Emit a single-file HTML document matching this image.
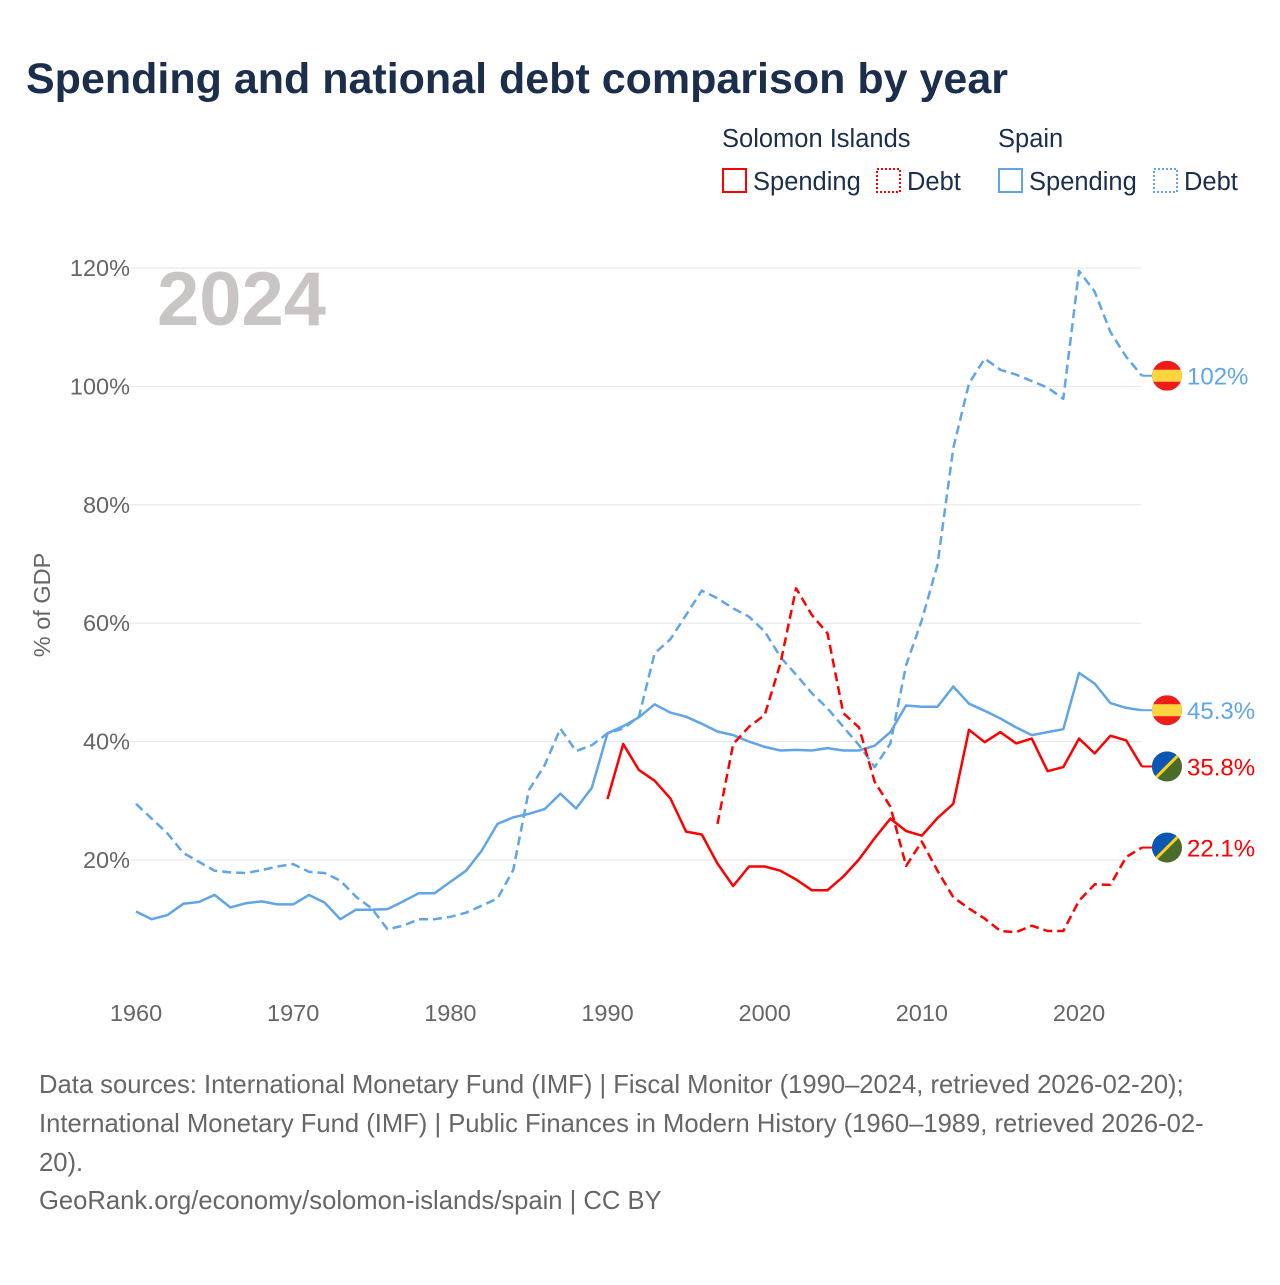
<!DOCTYPE html>
<html><head><meta charset="utf-8"><style>
body{margin:0;background:#fff;font-family:"Liberation Sans",sans-serif}
svg text{font-family:"Liberation Sans",sans-serif}
</style></head><body>
<svg width="1280" height="1280" viewBox="0 0 1280 1280">
<text x="26" y="93" font-size="43" font-weight="bold" fill="#1b2e4b">Spending and national debt comparison by year</text>
<g font-size="25.5" fill="#1b2e4b">
<text x="722" y="147">Solomon Islands</text>
<text x="998" y="147">Spain</text>
<g><rect x="723" y="169" width="23" height="23" fill="none" stroke="#f00" stroke-width="2"/><text x="753" y="190">Spending</text></g>
<g><rect x="877" y="169" width="23" height="23" fill="none" stroke="#f00" stroke-width="2" stroke-dasharray="2 2"/><text x="907" y="190">Debt</text></g>
<g><rect x="999" y="169" width="23" height="23" fill="none" stroke="#5fa5e8" stroke-width="2"/><text x="1029" y="190">Spending</text></g>
<g><rect x="1154" y="169" width="23" height="23" fill="none" stroke="#5fa5e8" stroke-width="2" stroke-dasharray="2 2"/><text x="1184" y="190">Debt</text></g>
</g>
<g id="grid"></g>
<text x="157" y="325" font-size="76" font-weight="bold" fill="#c9c5c5">2024</text>
<text transform="translate(50,605) rotate(-90)" text-anchor="middle" font-size="23.5" fill="#666">% of GDP</text>
<g id="series"></g>
<g id="ends"></g>
<g font-size="25.6" fill="#666">
<text x="39" y="1093">Data sources: International Monetary Fund (IMF) | Fiscal Monitor (1990–2024, retrieved 2026-02-20);</text>
<text x="39" y="1132">International Monetary Fund (IMF) | Public Finances in Modern History (1960–1989, retrieved 2026-02-</text>
<text x="39" y="1171">20).</text>
<text x="39" y="1209">GeoRank.org/economy/solomon-islands/spain | CC BY</text>
</g>
</svg>
<script>
const yTicks=[20,40,60,80,100,120];
const xTicks=[1960,1970,1980,1990,2000,2010,2020];
const spainSpendStart=1960;
const spainSpending=[11.3,10.0,10.7,12.6,12.9,14.1,12.0,12.7,13.0,12.5,12.5,14.1,12.8,10.0,11.6,11.6,11.7,13.0,14.4,14.4,16.3,18.2,21.6,26.1,27.2,27.8,28.6,31.2,28.7,32.2,41.4,42.6,44.1,46.3,44.9,44.2,43.0,41.7,41.1,40.0,39.1,38.5,38.6,38.5,38.9,38.5,38.5,39.3,41.6,46.1,45.9,45.9,49.3,46.4,45.2,43.9,42.4,41.1,41.6,42.1,51.6,49.8,46.5,45.7,45.3];
const spainDebtStart=1960;
const spainDebt=[29.5,27.0,24.5,21.2,19.7,18.2,17.9,17.8,18.3,18.9,19.3,18.0,17.8,16.5,13.8,11.8,8.3,8.9,10.0,10.0,10.4,11.1,12.3,13.5,18.3,31.8,36.0,42.2,38.4,39.4,41.4,42.2,44.2,54.9,57.3,61.4,65.5,64.2,62.5,61.1,58.6,54.3,51.3,48.2,45.6,42.5,39.4,35.7,39.7,52.9,60.5,69.9,89.6,100.5,104.7,102.8,102.0,100.9,99.8,97.9,119.5,116.0,109.2,105.0,101.8];
const solSpendStart=1990;
const solSpending=[30.3,39.6,35.2,33.4,30.4,24.8,24.3,19.4,15.6,18.9,18.9,18.2,16.7,14.9,14.9,17.2,20.1,23.7,27.0,24.9,24.1,27.1,29.5,42.0,39.9,41.6,39.7,40.5,35.0,35.7,40.5,38.0,41.0,40.2,35.8];
const solDebtStart=1997;
const solDebt=[26.1,39.6,42.5,44.5,53.2,65.9,61.4,58.3,44.8,42.4,33.2,29.0,19.0,23.1,18.2,13.7,11.8,10.1,8.0,7.8,8.9,8.0,8.0,13.1,15.9,15.8,20.5,22.1];

const NS='http://www.w3.org/2000/svg';
const X=y=>136+(y-1960)*(1079-136)/60;
const Y=v=>978.4-v*5.92;
function mk(t,a,p){const e=document.createElementNS(NS,t);for(const k in a)e.setAttribute(k,a[k]);p.appendChild(e);return e;}
const grid=document.getElementById('grid');
yTicks.forEach(v=>{
 const l=mk('line',{x1:130,x2:1141,y1:Y(v),y2:Y(v),stroke:'#e6e6e6','stroke-width':1},grid);
 
 
 const t=mk('text',{x:130,y:Y(v)+8,'text-anchor':'end','font-size':23.5,fill:'#666'},grid);
 t.textContent=v+'%';
 
 
});
xTicks.forEach(yr=>{
 const t=mk('text',{x:X(yr),y:1021,'text-anchor':'middle','font-size':23.5,fill:'#666'},grid);
 t.textContent=yr;
 
 
});
const ser=document.getElementById('series');
function line(vals,start,color,dash,name){
 const d=vals.map((v,i)=>(i?'L':'M')+X(start+i).toFixed(1)+' '+Y(v).toFixed(1)).join(' ');
 const p=mk('path',{d:d,fill:'none',stroke:color,'stroke-width':2.5,'stroke-linejoin':'round'},ser);
 if(dash)p.setAttribute('stroke-dasharray','9 5');
 
 
}
line(spainDebt,spainDebtStart,'#5fa5e8',true,'spain-debt-line');
line(spainSpending,spainSpendStart,'#5fa5e8',false,'spain-spending-line');
line(solDebt,solDebtStart,'#f00',true,'solomon-debt-line');
line(solSpending,solSpendStart,'#f00',false,'solomon-spending-line');
const ends=document.getElementById('ends');
function endLabel(vals,start,color,label,flag,name){
 const last=vals[vals.length-1];const y=Y(last);
 const xe=X(start+vals.length-1);
 mk('line',{x1:xe,x2:1152,y1:y,y2:y,stroke:color,'stroke-width':2},ends);
 const g=mk('g',{},ends);
 
 
 const cx=1167;
 const cp=mk('clipPath',{id:'c'+name},g);mk('circle',{cx:cx,cy:y,r:15},cp);
 const gg=mk('g',{'clip-path':'url(#c'+name+')'},g);
 if(flag==='es'){
  mk('rect',{x:cx-15,y:y-15,width:30,height:30,fill:'#f01c1c'},gg);
  mk('rect',{x:cx-15,y:y-6,width:30,height:12,fill:'#fcd53f'},gg);
 }else{
  mk('rect',{x:cx-15,y:y-15,width:30,height:30,fill:'#4a6b2a'},gg);
  mk('polygon',{points:`${cx-15},${y-15} ${cx+15},${y-15} ${cx-15},${y+15}`,fill:'#0b57b5'},gg);
  mk('line',{x1:cx-15,y1:y+15,x2:cx+15,y2:y-15,stroke:'#fcd116','stroke-width':3},gg);
 }
 const t=mk('text',{x:1187,y:y+9,'font-size':24,fill:color},ends);
 t.textContent=label;
 
 
}
endLabel(spainDebt,spainDebtStart,'#5fa5e8','102%','es','spain-debt-end');
endLabel(spainSpending,spainSpendStart,'#5fa5e8','45.3%','es','spain-spending-end');
endLabel(solSpending,solSpendStart,'#f00','35.8%','sb','solomon-spending-end');
endLabel(solDebt,solDebtStart,'#f00','22.1%','sb','solomon-debt-end');
</script>
</body></html>
